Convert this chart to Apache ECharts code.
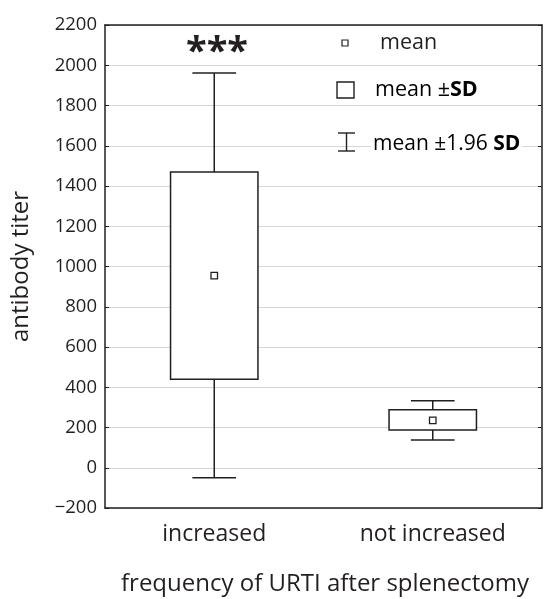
<!DOCTYPE html>
<html><head><meta charset="utf-8">
<script src="https://cdn.jsdelivr.net/npm/echarts@6/dist/echarts.min.js"></script>
<style>html,body{margin:0;padding:0;background:#fff}#c{width:545px;height:599px}</style>
</head><body><div id="c"></div>
<script>
const categories = ['increased', 'not increased'];
const means = [955, 235];
const sdLow = [440, 188];
const sdHigh = [1470, 288];
const ciLow = [-50, 138];
const ciHigh = [1962, 333];
const yMin = -200, yMax = 2200, yStep = 200;

const FONT = '"Open Sans", "Noto Sans", sans-serif';
const INK = '#231f20';

const boxData = categories.map((c, i) => [i, ciLow[i], sdLow[i], means[i], sdHigh[i], ciHigh[i]]);

const chart = echarts.init(document.getElementById('c'), null, {renderer: 'canvas'});
chart.setOption({
  animation: false,
  backgroundColor: '#fff',
  grid: {left: 105, right: 3, top: 25, bottom: 91, containLabel: false, outerBoundsMode: 'none'},
  xAxis: [{
    type: 'category', data: categories, position: 'bottom',
    axisLine: {onZero: false, lineStyle: {color: INK, width: 1.5}},
    axisTick: {inside: true, alignWithLabel: true, length: 4, lineStyle: {color: INK}},
    axisLabel: {color: INK, fontFamily: FONT, fontSize: 23, margin: 15}
  }, {
    type: 'category', data: categories, position: 'top',
    axisLine: {onZero: false, lineStyle: {color: INK, width: 1.5}},
    axisTick: {inside: true, alignWithLabel: true, length: 4, lineStyle: {color: INK}},
    axisLabel: {show: false}
  }],
  yAxis: [{
    type: 'value', min: yMin, max: yMax, interval: yStep,
    name: 'antibody titer', nameLocation: 'middle', nameGap: 72,
    nameTextStyle: {color: INK, fontFamily: FONT, fontSize: 24},
    axisLine: {show: true, onZero: false, lineStyle: {color: INK, width: 1.5}},
    axisTick: {show: true, inside: true, length: 4, lineStyle: {color: INK}},
    axisLabel: {color: INK, fontFamily: FONT, fontSize: 18.5, margin: 8,
      formatter: v => v < 0 ? '\u2212' + Math.abs(v) : String(v)},
    splitLine: {show: true, lineStyle: {color: '#d6d6d6', width: 1}}
  }, {
    type: 'value', min: yMin, max: yMax, interval: yStep, position: 'right',
    axisLine: {show: true, onZero: false, lineStyle: {color: INK, width: 1.5}},
    axisTick: {show: true, inside: true, length: 4, lineStyle: {color: INK}},
    axisLabel: {show: false}, splitLine: {show: false}
  }],
  series: [{
    type: 'custom',
    xAxisIndex: 0, yAxisIndex: 0,
    data: boxData,
    encode: {x: 0, y: [1, 2, 3, 4, 5]},
    renderItem: function (params, api) {
      const xi = api.value(0);
      const pLo = api.coord([xi, api.value(1)]);
      const pSl = api.coord([xi, api.value(2)]);
      const pM = api.coord([xi, api.value(3)]);
      const pSh = api.coord([xi, api.value(4)]);
      const pHi = api.coord([xi, api.value(5)]);
      const band = api.size([1, 0])[0];
      const bw = band * 0.4, cw = band * 0.2;
      const cx = pM[0];
      const ls = {stroke: INK, lineWidth: 1.5, fill: null};
      const m = 6.5;
      return {
        type: 'group',
        children: [
          {type: 'line', shape: {x1: cx, y1: pHi[1], x2: cx, y2: pSh[1]}, style: ls},
          {type: 'line', shape: {x1: cx, y1: pSl[1], x2: cx, y2: pLo[1]}, style: ls},
          {type: 'line', shape: {x1: cx - cw / 2, y1: pHi[1], x2: cx + cw / 2, y2: pHi[1]}, style: ls},
          {type: 'line', shape: {x1: cx - cw / 2, y1: pLo[1], x2: cx + cw / 2, y2: pLo[1]}, style: ls},
          {type: 'rect', shape: {x: cx - bw / 2, y: pSh[1], width: bw, height: pSl[1] - pSh[1]},
            style: {stroke: INK, lineWidth: 1.5, fill: '#fff'}},
          {type: 'rect', shape: {x: cx - m / 2, y: pM[1] - m / 2, width: m, height: m},
            style: {stroke: INK, lineWidth: 1.3, fill: '#fff'}}
        ]
      };
    }
  }],
  graphic: [
    {type: 'text', x: 217, y: 53, style: {text: '***', fontFamily: FONT, fontWeight: 'bold', fontSize: 38, fill: INK, textAlign: 'center', textVerticalAlign: 'middle'}, z: 10},
    {type: 'rect', shape: {x: 342, y: 40, width: 6, height: 6}, style: {stroke: INK, lineWidth: 1.2, fill: '#fff'}, z: 10},
    {type: 'text', x: 380, y: 43, style: {text: 'mean', fontFamily: FONT, fontSize: 21.5, fill: INK, textVerticalAlign: 'middle'}, z: 10},
    {type: 'rect', shape: {x: 337, y: 82, width: 17, height: 16}, style: {stroke: INK, lineWidth: 1.4, fill: '#fff'}, z: 10},
    {type: 'text', x: 375, y: 90, style: {
      text: '{a|mean ±}{b|SD}', textVerticalAlign: 'middle',
      rich: {a: {fontFamily: FONT, fontSize: 21.5, color: INK}, b: {fontFamily: FONT, fontSize: 21.5, fontWeight: 'bold', color: INK}}
    }, z: 10},
    {type: 'line', shape: {x1: 338, y1: 133, x2: 355, y2: 133}, style: {stroke: INK, lineWidth: 1.4}, z: 10},
    {type: 'line', shape: {x1: 338, y1: 151, x2: 355, y2: 151}, style: {stroke: INK, lineWidth: 1.4}, z: 10},
    {type: 'line', shape: {x1: 346.5, y1: 133, x2: 346.5, y2: 151}, style: {stroke: INK, lineWidth: 1.4}, z: 10},
    {type: 'text', x: 371, y: 144, style: {
      text: '{a|mean ±1.96 }{b|SD}', textVerticalAlign: 'middle', backgroundColor: '#fff', padding: [0, 2],
      rich: {a: {fontFamily: FONT, fontSize: 21, color: INK}, b: {fontFamily: FONT, fontSize: 21, fontWeight: 'bold', color: INK}}
    }, z: 10},
    {type: 'text', x: 121, y: 584, style: {text: 'frequency of URTI after splenectomy', fontFamily: FONT, fontSize: 24, fill: INK, textVerticalAlign: 'middle'}, z: 10}
  ]
});
</script></body></html>
